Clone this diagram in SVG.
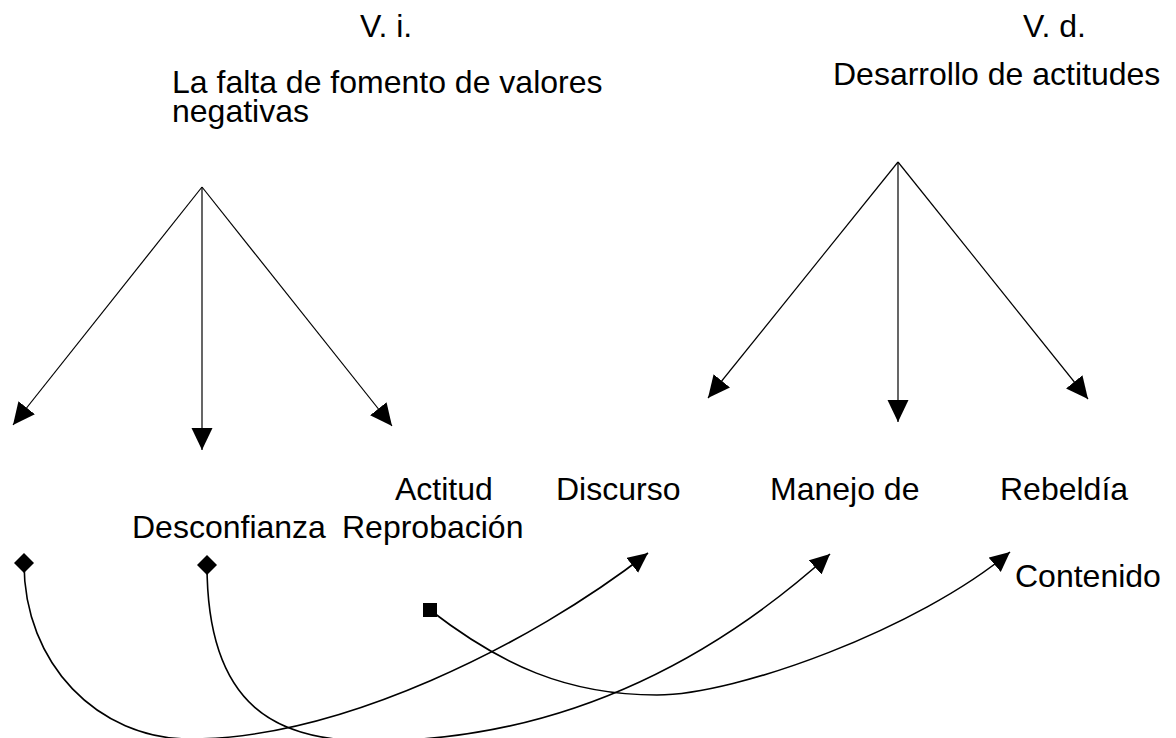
<svg xmlns="http://www.w3.org/2000/svg" width="1176" height="738" viewBox="0 0 1176 738">
<style>
text{font-family:"Liberation Sans",Arial,sans-serif;font-size:32px;fill:#000}
.ln{fill:none;stroke:#000;stroke-width:1.2}
.cv{fill:none;stroke:#000;stroke-width:1.6}
</style>
<defs>
<marker id="arr" markerWidth="22" markerHeight="22" refX="22" refY="10.5" orient="auto" markerUnits="userSpaceOnUse"><path d="M0,0 L22,10.5 L0,21 z" fill="#000"/></marker>
<marker id="arrS" markerWidth="20" markerHeight="20" refX="20" refY="9.5" orient="auto" markerUnits="userSpaceOnUse"><path d="M0,0 L20,9.5 L0,19 z" fill="#000"/></marker>
<marker id="dia" markerWidth="22" markerHeight="22" refX="11" refY="11" orient="0" markerUnits="userSpaceOnUse"><path d="M11,1 L21,11 L11,21 L1,11 z" fill="#000"/></marker>
<marker id="sq" markerWidth="16" markerHeight="16" refX="8" refY="8" orient="0" markerUnits="userSpaceOnUse"><rect x="1" y="1" width="14" height="14" fill="#000"/></marker>
</defs>
<g id="vi"><text x="360" y="37">V. i.</text></g>
<g id="vi-label"><text x="172" y="93">La falta de fomento de valores</text><text x="172" y="122">negativas</text></g>
<g id="vd"><text x="1023" y="37">V. d.</text></g>
<g id="vd-label"><text x="833" y="85">Desarrollo de actitudes</text></g>
<g id="desconfianza"><text x="132" y="538">Desconfianza</text></g>
<g id="actitud"><text x="395" y="500">Actitud</text><text x="342" y="538">Reprobación</text></g>
<g id="discurso"><text x="556" y="500">Discurso</text></g>
<g id="manejo"><text x="770" y="500">Manejo de</text></g>
<g id="rebeldia"><text x="1000" y="500">Rebeldía</text></g>
<g id="contenido"><text x="1015" y="587">Contenido</text></g>
<g id="connectors">
<line class="ln" x1="202" y1="187" x2="13" y2="425" marker-end="url(#arr)"/>
<line class="ln" x1="202" y1="187" x2="202" y2="450" marker-end="url(#arr)"/>
<line class="ln" x1="202" y1="187" x2="392" y2="426" marker-end="url(#arr)"/>
<line class="ln" x1="898" y1="162" x2="708" y2="398" marker-end="url(#arr)"/>
<line class="ln" x1="898" y1="162" x2="898" y2="422" marker-end="url(#arr)"/>
<line class="ln" x1="898" y1="162" x2="1088" y2="399" marker-end="url(#arr)"/>
<path class="cv" d="M24,563 C24,664 98,739 190,739 C340,739 530,645 648,553" marker-start="url(#dia)" marker-end="url(#arrS)"/>
<path class="cv" d="M207,565 C207,710 280,741 370,741 C570,741 719,654 830,554" marker-start="url(#dia)" marker-end="url(#arrS)"/>
<path class="cv" d="M430,610 C501,665 567,695 657,695 C737,695 918,629 1010,552" marker-start="url(#sq)" marker-end="url(#arrS)"/>
</g>
</svg>
